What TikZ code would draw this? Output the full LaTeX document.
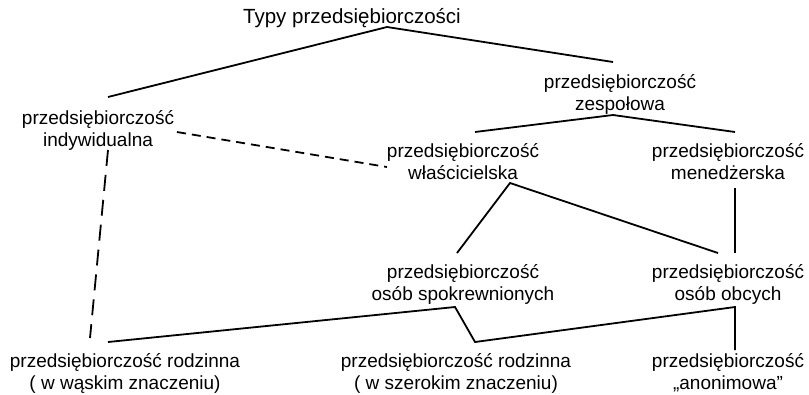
\documentclass[tikz,border=0pt]{standalone}
\usepackage{fontspec}
\setmainfont{Liberation Sans}
\begin{document}
\begin{tikzpicture}[x=1bp,y=-1bp,
  lbl/.style={align=center, inner sep=0pt, anchor=base,
              font=\fontsize{19bp}{22bp}\selectfont},
  link/.style={line width=1.8bp},
  dashshort/.style={line width=1.8bp, dash pattern=on 9bp off 6bp},
  dashlong/.style={line width=1.8bp, dash pattern=on 16bp off 9bp}]
\useasboundingbox (0,0) rectangle (809,394);

% labels (placed at the baseline of their last line)
\node[lbl, font=\fontsize{20.5bp}{24bp}\selectfont] (typy) at (352,23) {Typy przedsiębiorczości};
\node[lbl] (zesp)  at (620,110) {przedsiębiorczość\\zespołowa};
\node[lbl] (indyw) at (98,146)  {przedsiębiorczość\\indywidualna};
\node[lbl] (wlasc) at (463,179) {przedsiębiorczość\\właścicielska};
\node[lbl] (mened) at (728,179) {przedsiębiorczość\\menedżerska};
\node[lbl] (spok)  at (463,300) {przedsiębiorczość\\osób spokrewnionych};
\node[lbl] (obcy)  at (728,300) {przedsiębiorczość\\osób obcych};
\node[lbl] (wask)  at (125,389) {przedsiębiorczość rodzinna\\( w wąskim znaczeniu)};
\node[lbl] (szer)  at (456,389) {przedsiębiorczość rodzinna\\( w szerokim znaczeniu)};
\node[lbl] (anon)  at (728,389) {przedsiębiorczość\\„anonimowa”};

% solid links
\draw[link] ([shift={(10,-49)}]indyw.base) -- ([shift={(35,4)}]typy.base) -- ([shift={(-7,-48)}]zesp.base);
\draw[link] ([shift={(12,-47)}]wlasc.base) -- ([shift={(-7,5)}]zesp.base) -- ([shift={(7,-47)}]mened.base);
\draw[link] ([shift={(-6,-47)}]spok.base) -- ([shift={(47,4)}]wlasc.base) -- ([shift={(-10,-47)}]obcy.base);
\draw[link] ([shift={(7,9)}]mened.base) -- ([shift={(7,-47)}]obcy.base);
\draw[link] ([shift={(-17,-47)}]wask.base) -- ([shift={(-8,7)}]spok.base)
  -- ([shift={(19,-47)}]szer.base) -- ([shift={(7,7)}]obcy.base) -- ([shift={(7,-39)}]anon.base);

% dashed links
\draw[dashshort] ([shift={(79,-14)}]indyw.base) -- ([shift={(-76,-12)}]wlasc.base);
\draw[dashlong] ([shift={(10,4)}]indyw.base) -- ([shift={(-35,-51)}]wask.base);
\end{tikzpicture}
\end{document}
